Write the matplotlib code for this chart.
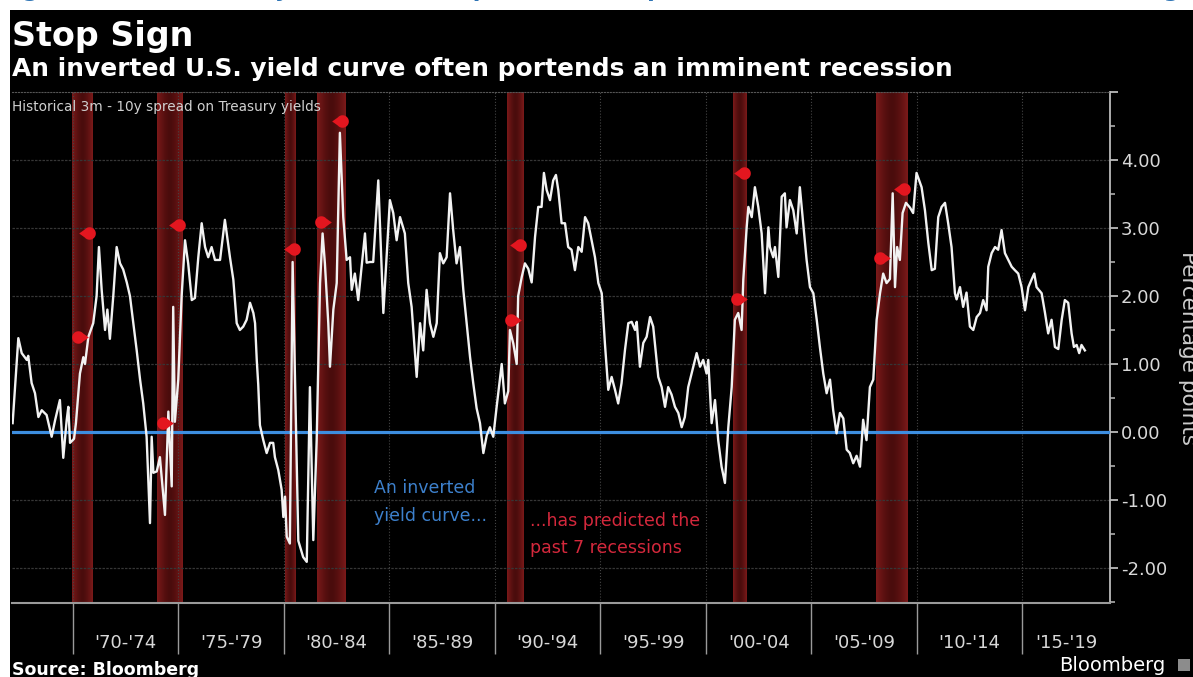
import numpy as np
import matplotlib
matplotlib.use("Agg")
import matplotlib.pyplot as plt
from matplotlib.path import Path
from matplotlib.patches import Rectangle
from matplotlib.colors import LinearSegmentedColormap

W, H = 1193, 677

# 3m - 10y spread (decimal year, percentage points)
years = [
    1967.14, 1967.41, 1967.57, 1967.81, 1967.88, 1968.04, 1968.20, 1968.36, 1968.52, 1968.75,
    1968.99, 1969.15, 1969.38, 1969.54, 1969.70, 1969.78, 1969.86, 1970.05, 1970.14, 1970.33,
    1970.49, 1970.57, 1970.73, 1970.96, 1971.12, 1971.23, 1971.36, 1971.52, 1971.63, 1971.75,
    1971.91, 1972.07, 1972.23, 1972.38, 1972.55, 1972.70, 1972.86, 1973.02, 1973.18, 1973.33,
    1973.49, 1973.65, 1973.73, 1973.81, 1973.97, 1974.12, 1974.36, 1974.52, 1974.68, 1974.75,
    1974.83, 1974.99, 1975.15, 1975.31, 1975.46, 1975.63, 1975.78, 1975.94, 1976.10, 1976.26,
    1976.41, 1976.57, 1976.73, 1976.97, 1977.20, 1977.44, 1977.60, 1977.76, 1977.91, 1978.07,
    1978.23, 1978.39, 1978.55, 1978.63, 1978.71, 1978.78, 1978.86, 1979.02, 1979.18, 1979.34,
    1979.49, 1979.57, 1979.73, 1979.89, 1979.97, 1980.05, 1980.13, 1980.28, 1980.41, 1980.68,
    1980.91, 1981.08, 1981.23, 1981.39, 1981.55, 1981.71, 1981.83, 1981.94, 1982.10, 1982.18,
    1982.34, 1982.50, 1982.65, 1982.81, 1982.97, 1983.13, 1983.21, 1983.36, 1983.52, 1983.68,
    1983.84, 1983.92, 1984.08, 1984.23, 1984.47, 1984.71, 1985.02, 1985.18, 1985.34, 1985.50,
    1985.73, 1985.89, 1986.05, 1986.29, 1986.45, 1986.60, 1986.76, 1986.92, 1987.08, 1987.24,
    1987.39, 1987.55, 1987.71, 1987.87, 1988.02, 1988.18, 1988.34, 1988.50, 1988.66, 1988.82,
    1988.97, 1989.13, 1989.29, 1989.45, 1989.61, 1989.76, 1989.92, 1990.08, 1990.32, 1990.47,
    1990.63, 1990.71, 1990.87, 1991.03, 1991.10, 1991.27, 1991.42, 1991.58, 1991.74, 1991.90,
    1992.05, 1992.21, 1992.32, 1992.45, 1992.61, 1992.76, 1992.89, 1993.00, 1993.16, 1993.32,
    1993.47, 1993.63, 1993.79, 1993.95, 1994.11, 1994.27, 1994.42, 1994.58, 1994.74, 1994.90,
    1995.06, 1995.21, 1995.37, 1995.53, 1995.69, 1995.84, 1996.00, 1996.16, 1996.32, 1996.48,
    1996.64, 1996.72, 1996.87, 1997.03, 1997.19, 1997.35, 1997.50, 1997.66, 1997.74, 1997.90,
    1998.06, 1998.21, 1998.37, 1998.53, 1998.69, 1998.85, 1999.00, 1999.16, 1999.32, 1999.56,
    1999.72, 1999.87, 2000.03, 2000.11, 2000.27, 2000.43, 2000.58, 2000.74, 2000.90, 2001.06,
    2001.22, 2001.37, 2001.53, 2001.69, 2001.77, 2001.93, 2002.01, 2002.17, 2002.32, 2002.48,
    2002.64, 2002.80, 2002.96, 2003.03, 2003.19, 2003.27, 2003.43, 2003.59, 2003.74, 2003.82,
    2003.98, 2004.14, 2004.30, 2004.45, 2004.61, 2004.77, 2004.93, 2005.09, 2005.25, 2005.40,
    2005.56, 2005.72, 2005.88, 2006.03, 2006.19, 2006.35, 2006.51, 2006.67, 2006.82, 2006.98,
    2007.14, 2007.30, 2007.45, 2007.61, 2007.77, 2007.93, 2008.09, 2008.25, 2008.40, 2008.56,
    2008.72, 2008.85, 2008.96, 2009.06, 2009.19, 2009.32, 2009.48, 2009.67, 2009.82, 2009.98,
    2010.22, 2010.38, 2010.54, 2010.70, 2010.85, 2011.01, 2011.17, 2011.33, 2011.48, 2011.64,
    2011.80, 2011.88, 2012.04, 2012.19, 2012.35, 2012.51, 2012.67, 2012.83, 2012.99, 2013.14,
    2013.30, 2013.38, 2013.54, 2013.70, 2013.85, 2014.01, 2014.17, 2014.33, 2014.49, 2014.64,
    2014.80, 2014.96, 2015.12, 2015.28, 2015.43, 2015.56, 2015.67, 2015.91, 2016.07, 2016.22,
    2016.38, 2016.54, 2016.70, 2016.86, 2017.01, 2017.17, 2017.33, 2017.44, 2017.57, 2017.69,
    2017.80, 2017.96,
]
spread = [
    0.13, 1.38, 1.16, 1.06, 1.12, 0.72, 0.57, 0.22, 0.32, 0.25,
    -0.07, 0.17, 0.47, -0.38, 0.17, 0.37, -0.16, -0.10, 0.13, 0.86,
    1.10, 1.00, 1.40, 1.60, 2.00, 2.72, 2.09, 1.50, 1.80, 1.37,
    2.00, 2.72, 2.48, 2.39, 2.20, 2.00, 1.60, 1.20, 0.77, 0.42,
    -0.07, -1.34, -0.07, -0.60, -0.58, -0.37, -1.22, 0.30, -0.80, 1.84,
    0.15, 0.77, 2.00, 2.82, 2.48, 1.94, 1.97, 2.57, 3.07, 2.72,
    2.57, 2.72, 2.53, 2.53, 3.12, 2.57, 2.24, 1.60, 1.50, 1.55,
    1.65, 1.90, 1.75, 1.60, 1.06, 0.70, 0.10, -0.12, -0.31, -0.16,
    -0.16, -0.37, -0.56, -0.85, -1.25, -0.95, -1.54, -1.64, 2.50, -1.60,
    -1.84, -1.91, 0.66, -1.59, -0.12, 2.19, 2.92, 2.48, 1.60, 0.96,
    1.80, 2.19, 4.40, 3.16, 2.53, 2.57, 2.09, 2.33, 1.94, 2.43,
    2.92, 2.49, 2.50, 2.50, 3.70, 1.75, 3.41, 3.22, 2.82, 3.16,
    2.92, 2.19, 1.84, 0.81, 1.60, 1.20, 2.09, 1.60, 1.40, 1.60,
    2.63, 2.48, 2.57, 3.51, 2.97, 2.48, 2.72, 2.09, 1.60, 1.10,
    0.72, 0.35, 0.13, -0.31, -0.05, 0.07, -0.07, 0.37, 1.00, 0.42,
    0.60, 1.50, 1.30, 1.00, 2.00, 2.28, 2.48, 2.40, 2.20, 2.87,
    3.31, 3.31, 3.81, 3.56, 3.41, 3.70, 3.78, 3.56, 3.07, 3.07,
    2.72, 2.68, 2.38, 2.72, 2.65, 3.16, 3.07, 2.82, 2.57, 2.19,
    2.04, 1.31, 0.62, 0.81, 0.62, 0.42, 0.72, 1.20, 1.60, 1.62,
    1.50, 1.62, 0.96, 1.31, 1.40, 1.69, 1.55, 1.06, 0.81, 0.66,
    0.37, 0.66, 0.55, 0.37, 0.28, 0.07, 0.22, 0.66, 0.86, 1.16,
    0.96, 1.06, 0.86, 1.06, 0.13, 0.47, -0.12, -0.51, -0.75, 0.07,
    0.66, 1.65, 1.75, 1.50, 2.24, 3.01, 3.31, 3.16, 3.60, 3.31,
    2.92, 2.04, 3.01, 2.72, 2.57, 2.72, 2.28, 3.46, 3.51, 3.01,
    3.41, 3.26, 2.92, 3.60, 3.07, 2.53, 2.13, 2.04, 1.65, 1.25,
    0.86, 0.57, 0.77, 0.32, -0.02, 0.28, 0.20, -0.26, -0.31, -0.46,
    -0.35, -0.51, 0.18, -0.12, 0.66, 0.77, 1.65, 2.04, 2.33, 2.19,
    2.25, 3.51, 2.13, 2.72, 2.53, 3.22, 3.37, 3.30, 3.22, 3.81,
    3.60, 3.26, 2.78, 2.38, 2.40, 3.16, 3.31, 3.37, 3.07, 2.72,
    2.04, 1.95, 2.13, 1.84, 2.05, 1.55, 1.50, 1.69, 1.75, 1.94,
    1.79, 2.43, 2.63, 2.72, 2.68, 2.97, 2.63, 2.53, 2.43, 2.38,
    2.33, 2.13, 1.79, 2.13, 2.24, 2.33, 2.13, 2.04, 1.75, 1.45,
    1.65, 1.25, 1.22, 1.65, 1.94, 1.90, 1.45, 1.25, 1.28, 1.16,
    1.28, 1.20,
]

# recession bands (start, end) in decimal years
recessions = [
    (1969.95, 1970.90), (1973.98, 1975.21), (1980.05, 1980.57), (1981.56, 1982.89),
    (1990.57, 1991.33), (2001.28, 2001.94), (2008.06, 2009.53),
]

# red signal tags
signal_years = [1970.65, 1970.33, 1974.91, 1974.36, 1980.36, 1981.83, 1982.65,
                1991.10, 1990.87, 2001.69, 2001.58, 2008.33, 2009.27]
signal_values = [2.92, 1.40, 3.04, 0.13, 2.69, 3.09, 4.57,
                 2.75, 1.65, 3.81, 1.95, 2.56, 3.58]
signal_points_left = [True, False, True, False, True, False, True,
                      True, False, True, False, False, True]

ytick_values = [-2, -1, 0, 1, 2, 3, 4, 5]
period_starts = [1970, 1975, 1980, 1985, 1990, 1995, 2000, 2005, 2010, 2015]
period_labels = ["'70-'74", "'75-'79", "'80-'84", "'85-'89", "'90-'94",
                 "'95-'99", "'00-'04", "'05-'09", "'10-'14", "'15-'19"]

x_min, x_max = 1967.11, 2019.15
y_min, y_max = -2.515, 5.0


def fx(px):
    return px / W


def fy(py):
    return 1 - py / H


def tag_marker(left=True):
    a = np.radians(np.linspace(140, -140, 30))
    pts = [(-1.0, 0.0)] + [(0.25 + 0.75 * np.cos(t), 0.75 * np.sin(t)) for t in a] + [(-1.0, 0.0)]
    if not left:
        pts = [(-x, y) for x, y in pts]
    return Path(pts, closed=True)


fig = plt.figure(figsize=(W / 100, H / 100), dpi=100, facecolor="white")
fig.add_artist(Rectangle((fx(10), 0), 1 - fx(10), fy(10), transform=fig.transFigure,
                         facecolor="black", edgecolor="none", zorder=-10))

ax = fig.add_axes([fx(12), fy(603), fx(1110) - fx(12), fy(92) - fy(603)])
ax.set_facecolor("black")

# recession shading with brighter edges
band_cmap = LinearSegmentedColormap.from_list("band", ["#4a0c0c", "#7c1a1a"])
grad = np.abs(np.linspace(-1, 1, 64))[None, :] ** 1.5
for s, e in recessions:
    ax.imshow(grad, extent=(s, e, y_min, y_max), aspect="auto", cmap=band_cmap,
              vmin=0, vmax=1, zorder=1, interpolation="bilinear")

for v in ytick_values[:-1]:
    ax.axhline(v, color="#363636", lw=0.9, ls=(0, (2, 1)), zorder=1.5)
for p in period_starts:
    ax.axvline(p, color="#444444", lw=0.8, ls=":", zorder=1.5)

ax.axhline(0, color="#3d8ee0", lw=2.3, zorder=3)
ax.plot(years, spread, color="#f2f2f2", lw=1.7, zorder=4)

for x, y, left in zip(signal_years, signal_values, signal_points_left):
    ax.plot(x, y, ls="none", marker=tag_marker(left), ms=12, color="#e3161f",
            mec="none", zorder=5)

ax.set_xlim(x_min, x_max)
ax.set_ylim(y_min, y_max)

# right-hand y axis
ax.yaxis.tick_right()
ax.set_yticks(ytick_values)
ax.set_yticklabels([f"{v:.2f}" if v < 5 else "" for v in ytick_values])
ax.set_yticks(np.arange(-2.5, 5, 1.0), minor=True)
ax.tick_params(axis="y", which="major", length=6, width=1.3, color="#bbbbbb",
               labelcolor="#d8d8d8", labelsize=13, pad=2)
ax.tick_params(axis="y", which="minor", length=3.5, width=1.1, color="#bbbbbb")

# x axis: long separators, labels centred in each period
ax.set_xticks(period_starts)
ax.set_xticklabels([])
centers = [p + 2.5 for p in period_starts[:-1]] + [(period_starts[-1] + x_max) / 2]
ax.set_xticks(centers, minor=True)
ax.set_xticklabels(period_labels, minor=True)
ax.tick_params(axis="x", which="major", length=37, width=1, color="#9a9a9a")
ax.tick_params(axis="x", which="minor", length=0, labelsize=13,
               labelcolor="#d8d8d8", pad=22)

ax.spines["left"].set_visible(False)
ax.spines["top"].set_color("#555555")
ax.spines["top"].set_linestyle(":")
ax.spines["right"].set_color("#bbbbbb")
ax.spines["right"].set_linewidth(1.3)
ax.spines["bottom"].set_color("#9a9a9a")
ax.spines["bottom"].set_linewidth(1.5)

# texts (the caption above the chart is cropped in the original screenshot)
fig.text(fx(0), fy(-3), "Figure 1: An inverted yield curve has preceded the past seven recessions (source: Bloomberg),",
         color="#2e74b5", fontsize=16, weight="bold", va="baseline")
fig.text(fx(12), fy(46), "Stop Sign", color="white", fontsize=24, weight="bold", va="baseline")
fig.text(fx(12), fy(76), "An inverted U.S. yield curve often portends an imminent recession",
         color="white", fontsize=17.9, weight="bold", va="baseline")
fig.text(fx(12), fy(107), "Historical 3m - 10y spread on Treasury yields",
         color="#d0d0d0", fontsize=9.8, va="center")

for i, line in enumerate(["An inverted", "yield curve..."]):
    fig.text(fx(374), fy(488 + 28 * i), line, color="#3d80cc", fontsize=12.5, va="center")
for i, line in enumerate(["...has predicted the", "past 7 recessions"]):
    fig.text(fx(530), fy(521 + 27 * i), line, color="#d4283c", fontsize=12.5, va="center")

fig.text(fx(1188), fy(348), "Percentage points", rotation=270, color="#cccccc",
         fontsize=15.5, ha="center", va="center")

fig.text(fx(12), fy(675), "Source: Bloomberg", color="white", fontsize=12.5,
         weight="bold", va="baseline")
fig.text(fx(1165), fy(671), "Bloomberg", color="white", fontsize=14, ha="right", va="baseline")
fig.add_artist(Rectangle((fx(1178), fy(671)), 12 / W, 12 / H, transform=fig.transFigure,
                         facecolor="#8c8c8c", edgecolor="none"))

fig.savefig("out.png", dpi=100, facecolor=fig.get_facecolor())
